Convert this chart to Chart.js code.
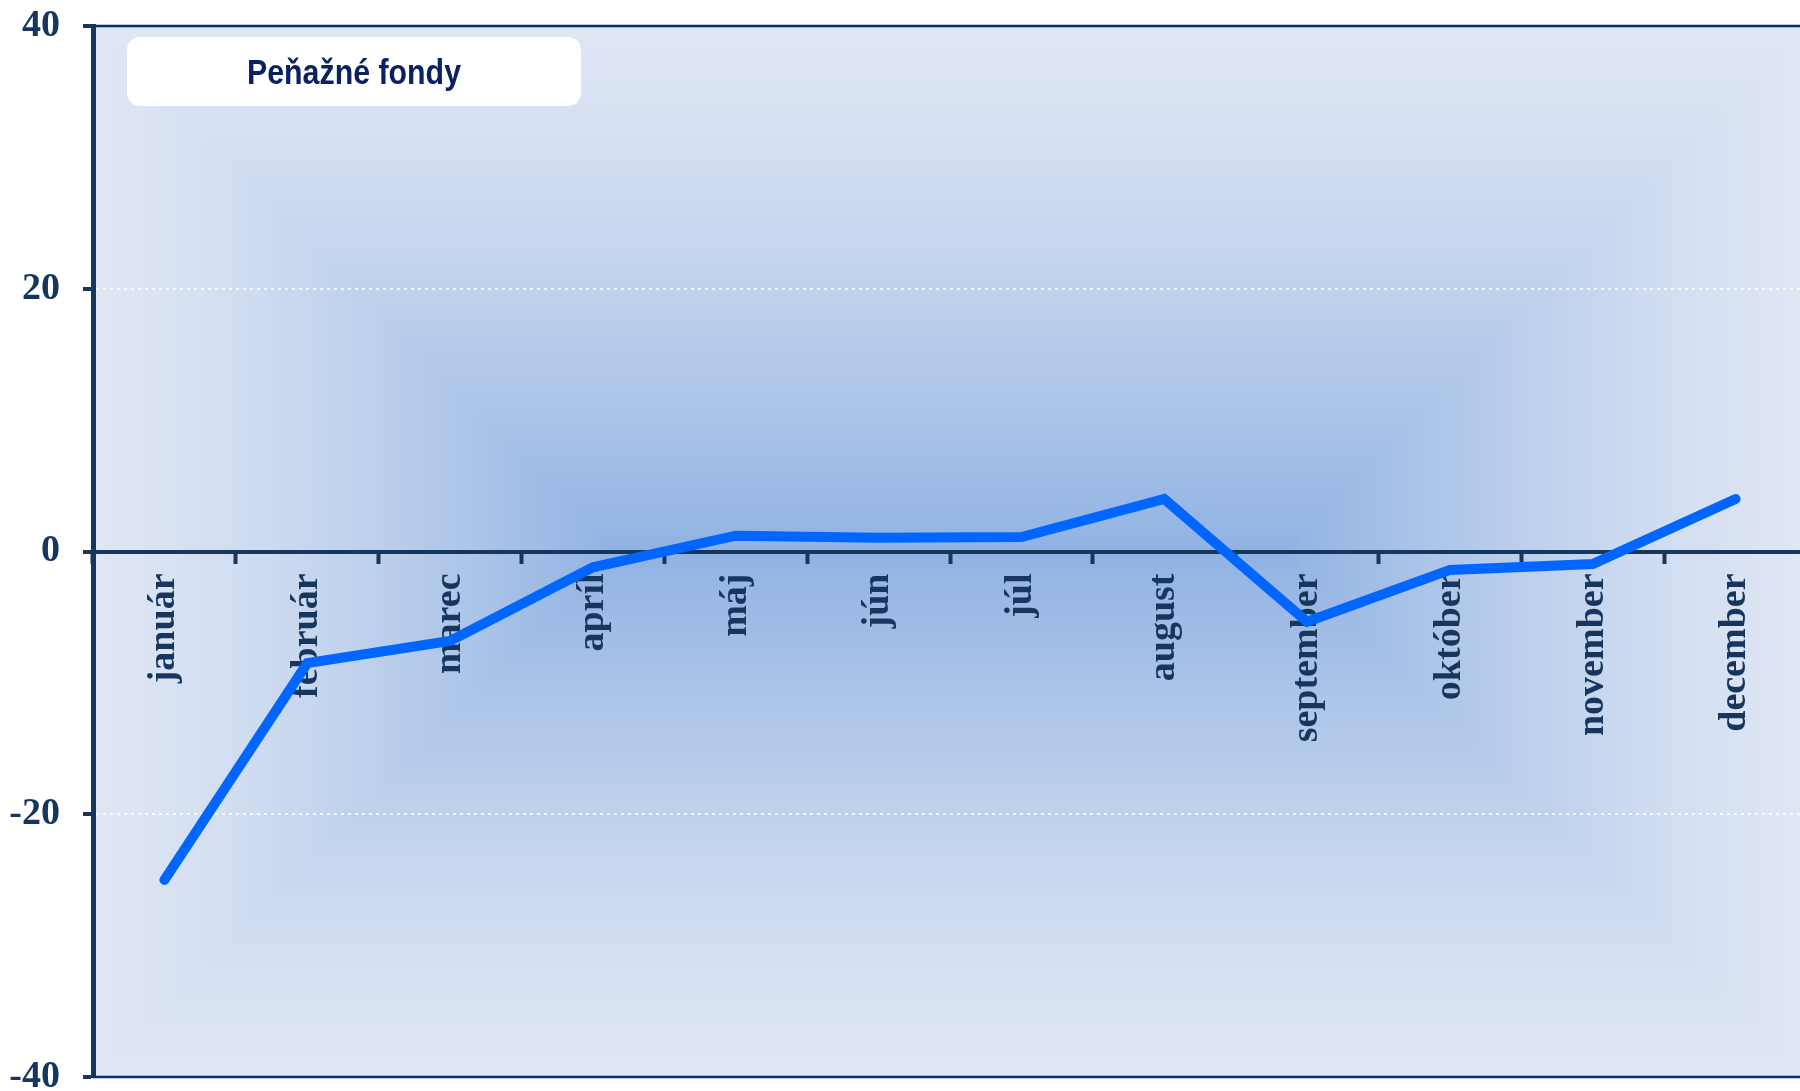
<!DOCTYPE html>
<html>
<head>
<meta charset="utf-8">
<script src="https://cdn.jsdelivr.net/npm/chart.js@4/dist/chart.umd.min.js"></script>
<style>
  html, body { margin: 0; padding: 0; background: #fff; overflow: hidden; }
  #wrap { width: 1807px; height: 1091px; }
</style>
</head>
<body>
<div id="wrap"><canvas id="fundChart" width="1807" height="1091"></canvas></div>
<script>
const months = ['január', 'február', 'marec', 'apríl', 'máj', 'jún', 'júl', 'august', 'september', 'október', 'november', 'december']
const flows = [-25.0, -8.5, -6.8, -1.2, 1.2, 1.05, 1.1, 4.0, -5.35, -1.4, -0.95, 4.0]
const yTicks = [40, 20, 0, -20, -40]
const chartTitle = 'Peňažné fondy'

const navy = '#17365d'
const ctx = document.getElementById('fundChart').getContext('2d')

function mix(c1, c2, t) {
  const a = c1.match(/\w\w/g).map(h => parseInt(h, 16))
  const b = c2.match(/\w\w/g).map(h => parseInt(h, 16))
  return 'rgb(' + a.map((v, i) => Math.round(v + (b[i] - v) * t)).join(',') + ')'
}

// rectangular path gradient: light at the frame, blue towards the middle
const plotBackground = {
  id: 'plotBackground',
  beforeDraw(chart) {
    const { ctx, chartArea: a } = chart
    ctx.save()
    ctx.fillStyle = '#ffffff'
    ctx.fillRect(0, 0, chart.width, chart.height)
    const half = a.height / 2
    const steps = 90
    for (let i = 0; i < steps; i++) {
      const s = i / steps
      const d = s * half
      ctx.fillStyle = mix('dfe6f4', '90b2e2', Math.pow(s, 1.3))
      ctx.fillRect(a.left + d, a.top + d, a.width - 2 * d, a.height - 2 * d)
    }
    ctx.restore()
  }
}

// top and bottom frame lines plus the title box
const frameAndTitle = {
  id: 'frameAndTitle',
  beforeDatasetsDraw(chart) {
    const { ctx, chartArea: a } = chart
    ctx.save()
    ctx.strokeStyle = '#0b2a6f'
    ctx.lineWidth = 2.5
    ctx.beginPath()
    ctx.moveTo(a.left, a.top)
    ctx.lineTo(a.right, a.top)
    ctx.moveTo(a.left, a.bottom)
    ctx.lineTo(a.right, a.bottom)
    ctx.stroke()

    const bx = a.left + 34
    const by = a.top + 11
    const bw = 454
    const bh = 69
    ctx.fillStyle = '#ffffff'
    ctx.beginPath()
    ctx.roundRect(bx, by, bw, bh, 13)
    ctx.fill()

    ctx.fillStyle = '#0a2162'
    ctx.font = 'bold 35px "Liberation Sans", Arial, sans-serif'
    ctx.textAlign = 'center'
    ctx.textBaseline = 'alphabetic'
    const w = ctx.measureText(chartTitle).width
    const sx = 214 / w
    ctx.translate(bx + bw / 2, by + 47)
    ctx.scale(sx, 1)
    ctx.fillText(chartTitle, 0, 0)
    ctx.restore()
  }
}

new Chart(ctx, {
  type: 'line',
  data: {
    labels: months,
    datasets: [
      {
        label: chartTitle,
        data: flows,
        borderColor: '#0066ff',
        borderWidth: 10,
        borderCapStyle: 'round',
        borderJoinStyle: 'miter',
        pointRadius: 0,
        tension: 0
      }
    ]
  },
  options: {
    responsive: false,
    animation: false,
    layout: { padding: { top: 26, bottom: 14, left: 0, right: 0 } },
    plugins: {
      legend: { display: false },
      title: { display: false },
      tooltip: { enabled: false }
    },
    scales: {
      x: {
        type: 'category',
        position: { y: 0 },
        offset: true,
        grid: {
          offset: true,
          drawOnChartArea: false,
          drawTicks: true,
          tickLength: 10,
          tickWidth: 4,
          tickColor: navy
        },
        border: { display: true, color: navy, width: 4 },
        ticks: {
          autoSkip: false,
          minRotation: 90,
          maxRotation: 90,
          padding: 12,
          color: navy,
          font: { family: '"Liberation Serif", "Times New Roman", serif', size: 38, weight: 'bold' }
        }
      },
      y: {
        min: -40,
        max: 40,
        afterBuildTicks: scale => {
          scale.ticks = yTicks.map(v => ({ value: v }))
        },
        afterFit: scale => {
          scale.width = 93
          scale.paddingTop = 0
          scale.paddingBottom = 0
        },
        grid: {
          color: c => (Math.abs(c.tick.value) === 20 ? 'rgba(255,255,255,0.8)' : 'rgba(0,0,0,0)'),
          lineWidth: 2,
          drawTicks: true,
          tickLength: 10,
          tickWidth: 4,
          tickColor: navy
        },
        border: { display: true, color: navy, width: 5, dash: [3, 4] },
        ticks: {
          padding: 23,
          color: navy,
          font: { family: '"Liberation Serif", "Times New Roman", serif', size: 38, weight: 'bold' }
        }
      }
    }
  },
  plugins: [plotBackground, frameAndTitle]
})
</script>
</body>
</html>
